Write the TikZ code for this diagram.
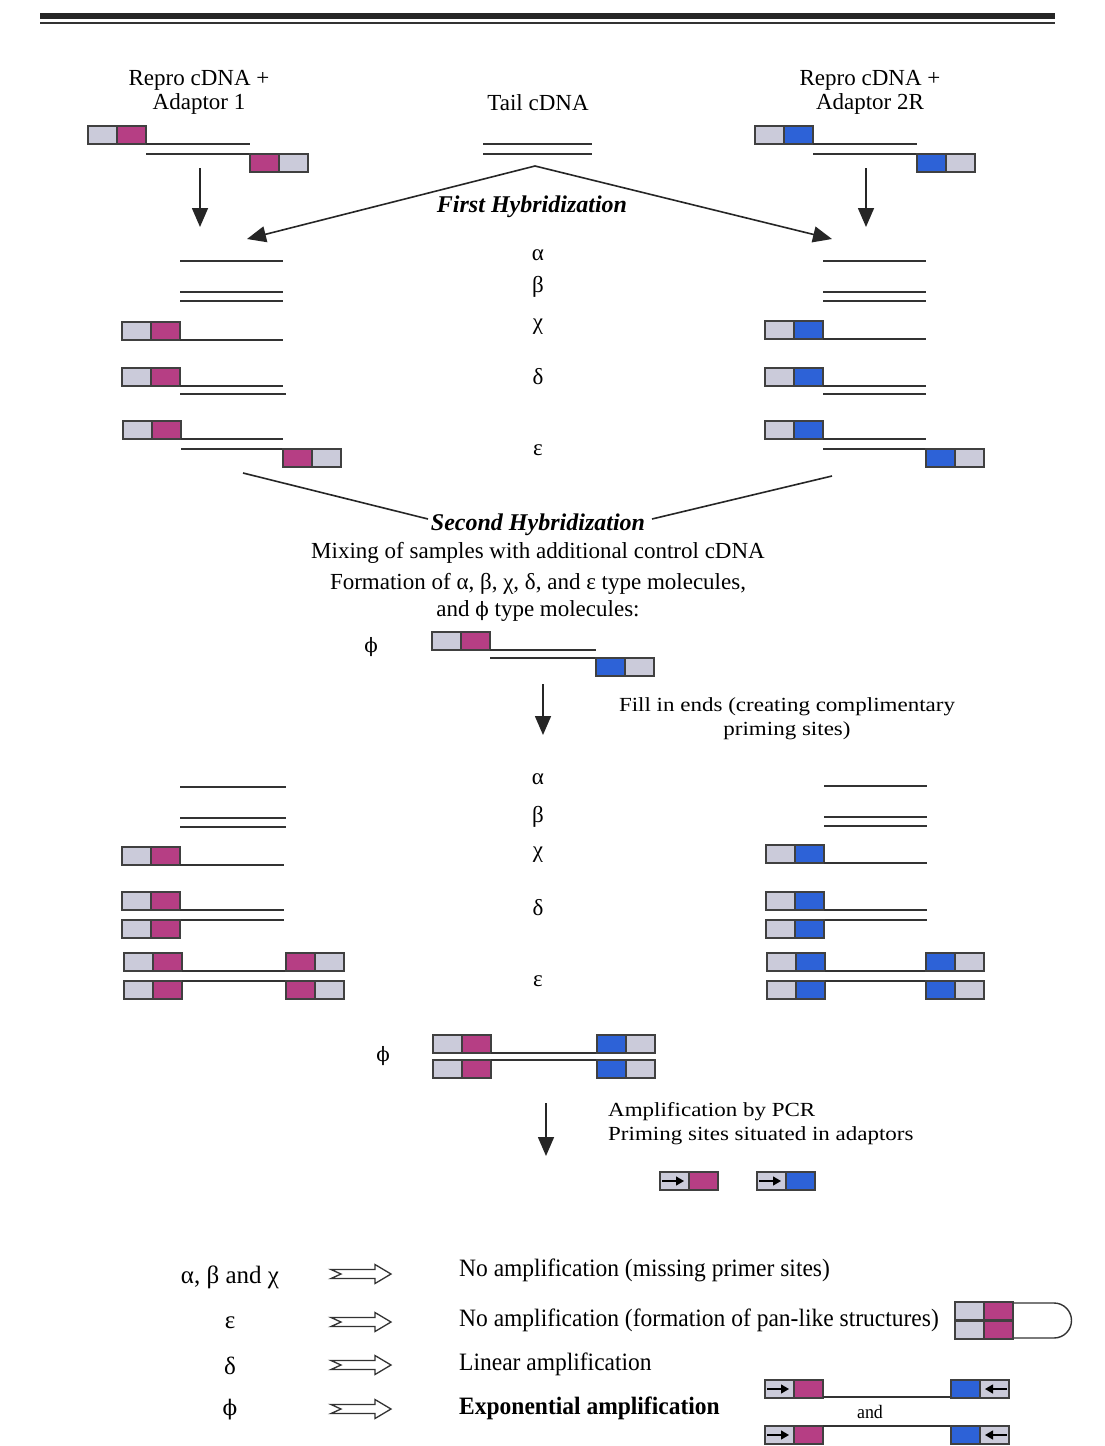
\documentclass[tikz,border=0pt]{standalone}
\usepackage{fontspec}
\setmainfont{Liberation Serif}
\newfontfamily\wideserif[FakeStretch=1.15]{Liberation Serif}
\newfontfamily\narrowserif[FakeStretch=0.94]{Liberation Serif}
\newfontfamily\phifont[Scale=0.86]{DejaVu Serif}
\newcommand{\phis}{{\phifont ϕ}}
\usetikzlibrary{arrows.meta}
\definecolor{adgray}{RGB}{203,203,218}
\definecolor{adpink}{RGB}{182,62,132}
\definecolor{adblue}{RGB}{45,98,215}
\tikzset{
 strand/.style={line width=1.4pt, draw=black!80},
 boxst/.style={line width=1.3pt, draw=black!75},
 conn/.style={line width=1.6pt, draw=black!85},
 arrowst/.style={conn, -{Triangle[length=19pt,width=16pt]}},
 txt/.style={font=\fontsize{23}{24}\selectfont, inner sep=0pt, align=center},
 hyb/.style={font=\fontsize{24}{26}\selectfont\bfseries\itshape, inner sep=0pt},
 widetxt/.style={font=\wideserif\fontsize{20}{24}\selectfont, inner sep=0pt, align=left},
 leg/.style={font=\narrowserif\fontsize{25}{27}\selectfont, inner sep=0pt, anchor=west},
 greek/.style={font=\fontsize{23}{24}\selectfont, inner sep=0pt},
 leggreek/.style={font=\fontsize{25}{27}\selectfont, inner sep=0pt},
 hollow/.style={line width=1.3pt, draw=black!80, fill=white},
 tiny/.style={line width=1.2pt, -{Triangle[length=8pt,width=9pt]}}
}
\newcommand{\mkAd}[4]{%
 \draw[boxst,fill=#3] (#1,#2) rectangle ++(29,18);
 \draw[boxst,fill=#4] (#1+29,#2) rectangle ++(29,18);}
\newcommand{\mkPrL}[3]{%
 \draw[boxst,fill=adgray] (#1,#2) rectangle ++(29,18);
 \draw[boxst,fill=#3] (#1+29,#2) rectangle ++(29,18);
 \draw[tiny] (#1+2,#2+9) -- (#1+24,#2+9);}
\newcommand{\mkPrR}[3]{%
 \draw[boxst,fill=#3] (#1,#2) rectangle ++(29,18);
 \draw[boxst,fill=adgray] (#1+29,#2) rectangle ++(29,18);
 \draw[tiny] (#1+56,#2+9) -- (#1+34,#2+9);}
\newcommand{\mkHa}[2]{%
 \draw[hollow] (#1,#2-4.5) -- (#1+44,#2-4.5) -- (#1+44,#2-9.5) -- (#1+60,#2)
   -- (#1+44,#2+9.5) -- (#1+44,#2+4.5) -- (#1,#2+4.5) -- (#1+10,#2) -- cycle;}
\begin{document}
\begin{tikzpicture}[x=1pt,y=-1pt]
\useasboundingbox[fill=white] (0,0) rectangle (1105,1446);
% header rule
\draw[line width=6pt, black!85] (40,16) -- (1055,16);
\draw[line width=2pt, black!80] (40,23) -- (1055,23);

% titles
\node[txt] (t1) at (199,92) {Repro cDNA +\\Adaptor 1};
\node[txt] (t2) at (538,103) {Tail cDNA};
\node[txt] (t3) at (870,92) {Repro cDNA +\\Adaptor 2R};

% starting molecules
\mkAd{88}{126}{adgray}{adpink}
\draw[strand] (146,144) -- (250,144);
\draw[strand] (146,154) -- (250,154);
\mkAd{250}{154}{adpink}{adgray}
\draw[strand] (483,144) -- (592,144);
\draw[strand] (483,154) -- (592,154);
\mkAd{755}{126}{adgray}{adblue}
\draw[strand] (813,144) -- (917,144);
\draw[strand] (813,154) -- (917,154);
\mkAd{917}{154}{adblue}{adgray}

% first hybridization arrows
\coordinate (lvS) at (200,168); \coordinate (lvE) at (200,227);
\coordinate (rvS) at (866,168); \coordinate (rvE) at (866,227);
\coordinate (apex) at (535,166);
\coordinate (lhE) at (247,239); \coordinate (rhE) at (832,239);
\draw[arrowst] (lvS) -- (lvE);
\draw[arrowst] (rvS) -- (rvE);
\draw[arrowst] (apex) -- (lhE);
\draw[arrowst] (apex) -- (rhE);
\node[hyb] (fh) at (532,207) {First Hybridization};

% greek set 1
\node[greek] (a1) at (538,255) {α};
\node[greek] (b1) at (538,287) {β};
\node[greek] (c1) at (538,327) {χ};
\node[greek] (d1) at (538,377) {δ};
\node[greek] (e1) at (538,450) {ε};

% left set 1
\draw[strand] (180,261) -- (283,261);
\draw[strand] (180,292) -- (283,292);
\draw[strand] (180,301) -- (283,301);
\mkAd{122}{322}{adgray}{adpink}
\draw[strand] (180,340) -- (283,340);
\mkAd{122}{368}{adgray}{adpink}
\draw[strand] (180,386) -- (283,386);
\draw[strand] (180,394) -- (286,394);
\mkAd{123}{421}{adgray}{adpink}
\draw[strand] (181,439) -- (283,439);
\draw[strand] (181,449) -- (283,449);
\mkAd{283}{449}{adpink}{adgray}

% right set 1
\draw[strand] (823,261) -- (926,261);
\draw[strand] (823,292) -- (926,292);
\draw[strand] (823,301) -- (926,301);
\mkAd{765}{321}{adgray}{adblue}
\draw[strand] (823,339) -- (926,339);
\mkAd{765}{368}{adgray}{adblue}
\draw[strand] (823,386) -- (926,386);
\draw[strand] (823,394) -- (926,394);
\mkAd{765}{421}{adgray}{adblue}
\draw[strand] (823,439) -- (926,439);
\draw[strand] (823,449) -- (926,449);
\mkAd{926}{449}{adblue}{adgray}

% second hybridization
\coordinate (sl1) at (243,473); \coordinate (sl2) at (428,519);
\coordinate (sr1) at (832,476); \coordinate (sr2) at (652,519);
\draw[conn] (sl1) -- (sl2);
\draw[conn] (sr1) -- (sr2);
\node[hyb] (sh) at (538,525) {Second Hybridization};
\node[txt] (m1) at (538,553) {Mixing of samples with additional control cDNA};
\node[txt] (m2) at (538,584) {Formation of α, β, χ, δ, and ε type molecules,};
\node[txt] (m3) at (538,611) {and \phis{} type molecules:};

% phi molecule 1
\node[greek] (p1) at (371,647) {\phis};
\mkAd{432}{632}{adgray}{adpink}
\draw[strand] (490,650) -- (596,650);
\draw[strand] (490,658) -- (596,658);
\mkAd{596}{658}{adblue}{adgray}

% fill in
\coordinate (f1) at (543,684); \coordinate (f2) at (543,735);
\draw[arrowst] (f1) -- (f2);
\node[widetxt, align=center] (fi) at (787,719) {Fill in ends (creating complimentary\\priming sites)};

% greek set 2
\node[greek] (a2) at (538,779) {α};
\node[greek] (b2) at (538,817) {β};
\node[greek] (c2) at (538,855) {χ};
\node[greek] (d2) at (538,908) {δ};
\node[greek] (e2) at (538,981) {ε};

% left set 2
\draw[strand] (180,787) -- (286,787);
\draw[strand] (180,818) -- (286,818);
\draw[strand] (180,827) -- (286,827);
\mkAd{122}{847}{adgray}{adpink}
\draw[strand] (180,865) -- (284,865);
\mkAd{122}{892}{adgray}{adpink}
\draw[strand] (180,910) -- (284,910);
\draw[strand] (180,920) -- (284,920);
\mkAd{122}{920}{adgray}{adpink}
\mkAd{124}{953}{adgray}{adpink}
\draw[strand] (182,971) -- (286,971);
\mkAd{286}{953}{adpink}{adgray}
\mkAd{124}{981}{adgray}{adpink}
\draw[strand] (182,981) -- (286,981);
\mkAd{286}{981}{adpink}{adgray}

% right set 2
\draw[strand] (824,786) -- (927,786);
\draw[strand] (824,817) -- (927,817);
\draw[strand] (824,826) -- (927,826);
\mkAd{766}{845}{adgray}{adblue}
\draw[strand] (824,863) -- (927,863);
\mkAd{766}{892}{adgray}{adblue}
\draw[strand] (824,910) -- (927,910);
\draw[strand] (824,920) -- (927,920);
\mkAd{766}{920}{adgray}{adblue}
\mkAd{767}{953}{adgray}{adblue}
\draw[strand] (825,971) -- (926,971);
\mkAd{926}{953}{adblue}{adgray}
\mkAd{767}{981}{adgray}{adblue}
\draw[strand] (825,981) -- (926,981);
\mkAd{926}{981}{adblue}{adgray}

% phi molecule 2
\node[greek] (p2) at (383,1056) {\phis};
\mkAd{433}{1035}{adgray}{adpink}
\draw[strand] (491,1053) -- (597,1053);
\mkAd{597}{1035}{adblue}{adgray}
\mkAd{433}{1060}{adgray}{adpink}
\draw[strand] (491,1060) -- (597,1060);
\mkAd{597}{1060}{adblue}{adgray}

% PCR
\coordinate (g1) at (546,1103); \coordinate (g2) at (546,1156);
\draw[arrowst] (g1) -- (g2);
\node[widetxt, anchor=north west] (pcr) at (608,1102) {Amplification by PCR\\Priming sites situated in adaptors};
\mkPrL{660}{1172}{adpink}
\mkPrL{757}{1172}{adblue}

% legend
\node[leggreek] (la) at (230,1277) {α, β and χ};
\node[leggreek] (le) at (230,1323) {ε};
\node[leggreek] (ld) at (230,1366) {δ};
\node[leggreek] (lp) at (230,1410) {\phis};
\mkHa{331}{1274}
\mkHa{331}{1322}
\mkHa{331}{1365}
\mkHa{331}{1409}
\node[leg] (n1) at (459,1270) {No amplification (missing primer sites)};
\node[leg] (n2) at (459,1320) {No amplification (formation of pan-like structures)};
\node[leg] (n3) at (459,1364) {Linear amplification};
\node[leg, font=\narrowserif\fontsize{25}{27}\selectfont\bfseries] (n4) at (459,1408) {Exponential amplification};

% pan-like structure
\draw[strand] (1011,1303) -- (1054,1303) arc[start angle=-90, end angle=90, radius=17.5] -- (1011,1338);
\mkAd{955}{1302}{adgray}{adpink}
\mkAd{955}{1321}{adgray}{adpink}

% exponential products
\mkPrL{765}{1380}{adpink}
\draw[strand] (823,1397) -- (951,1397);
\mkPrR{951}{1380}{adblue}
\node[leg, anchor=center, font=\narrowserif\fontsize{19}{20}\selectfont] (and) at (870,1412) {and};
\mkPrL{765}{1426}{adpink}
\draw[strand] (823,1426) -- (951,1426);
\mkPrR{951}{1426}{adblue}
\end{tikzpicture}
\end{document}
